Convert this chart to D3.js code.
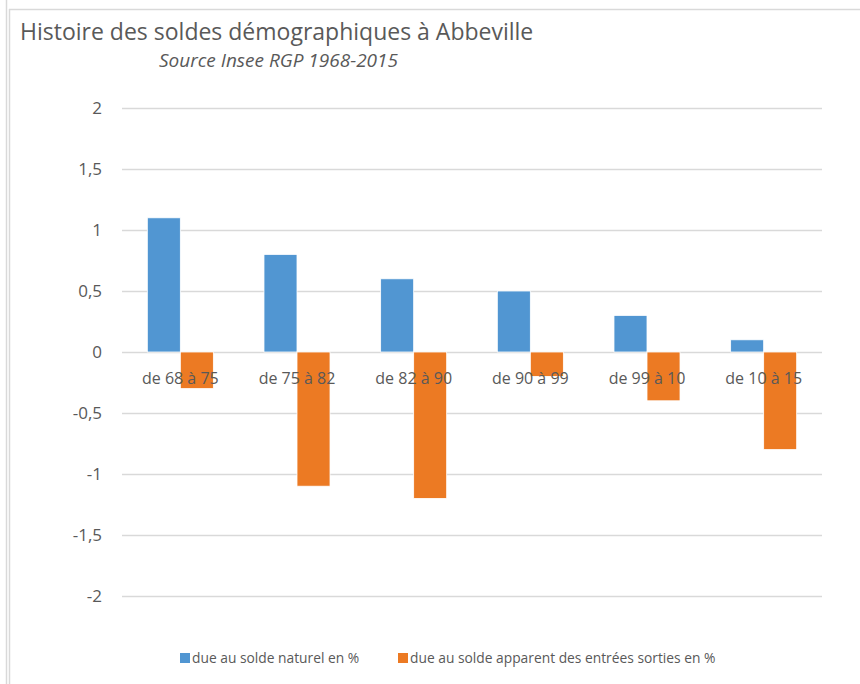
<!DOCTYPE html>
<html>
<head>
<meta charset="utf-8">
<script src="https://cdn.jsdelivr.net/npm/d3@7"></script>
<style>
  body { margin: 0; background: #fff; }
  svg text { font-family: "Open Sans", "Noto Sans", sans-serif; }
</style>
</head>
<body>
<div id="chart"></div>
<script>
  ////////////////////////////////// Data //////////////////////////////////
  var periods = ["de 68 à 75", "de 75 à 82", "de 82 à 90", "de 90 à 99", "de 99 à 10", "de 10 à 15"]
  var naturel = [1.1, 0.8, 0.6, 0.5, 0.3, 0.1]
  var migratoire = [-0.3, -1.1, -1.2, -0.2, -0.4, -0.8]
  var seriesNames = ["due au solde naturel en %", "due au solde apparent des entrées sorties en %"]
  var yTicks = [-2, -1.5, -1, -0.5, 0, 0.5, 1, 1.5, 2]

  var colors = ["#5196d2", "#ec7a23"]
  var W = 860, H = 684
  var margin = {top: 108, right: 38, bottom: 88, left: 122}

  var svg = d3.select("#chart").append("svg")
    .attr("width", W)
    .attr("height", H)

  // frame
  svg.append("line").attr("x1", 6.5).attr("x2", 6.5).attr("y1", 0).attr("y2", H)
    .attr("stroke", "#d9d9d9").attr("stroke-width", 1.5)
  svg.append("line").attr("x1", 9.5).attr("x2", 9.5).attr("y1", 9).attr("y2", H)
    .attr("stroke", "#d9d9d9").attr("stroke-width", 1.5)
  svg.append("line").attr("x1", 9).attr("x2", W).attr("y1", 9.5).attr("y2", 9.5)
    .attr("stroke", "#d9d9d9").attr("stroke-width", 1.5)

  ////////////////////////////// Scales /////////////////////////////////////
  var x = d3.scaleBand()
    .domain(periods)
    .range([margin.left, W - margin.right])
    .paddingInner(0.434)
    .paddingOuter(0.217)

  var xSub = d3.scaleBand()
    .domain([0, 1])
    .range([0, x.bandwidth()])

  var y = d3.scaleLinear()
    .domain([-2, 2])
    .range([H - margin.bottom, margin.top])

  ////////////////////////////// Grid & axis ////////////////////////////////
  var yAxis = d3.axisLeft(y)
    .tickValues(yTicks)
    .tickSize(-(W - margin.right - margin.left))
    .tickPadding(20)
    .tickFormat(function(d) { return String(d).replace(".", ",") })

  var gy = svg.append("g")
    .attr("transform", "translate(" + margin.left + ",0)")
    .call(yAxis)
  gy.select(".domain").remove()
  gy.selectAll(".tick line").attr("stroke", "#d9d9d9").attr("stroke-width", 1.3)
  gy.selectAll(".tick text")
    .attr("fill", "#595959")
    .style("font-size", "17px")

  ////////////////////////////// Bars ///////////////////////////////////////
  var data = periods.map(function(p, i) { return {period: p, values: [naturel[i], migratoire[i]]} })

  var groups = svg.selectAll(".grp").data(data).enter().append("g")
    .attr("class", "grp")
    .attr("transform", function(d) { return "translate(" + x(d.period) + ",0)" })

  groups.selectAll("rect").data(function(d) { return d.values.map(function(v, k) { return {k: k, v: v} }) })
    .enter().append("rect")
    .attr("x", function(d) { return xSub(d.k) })
    .attr("width", xSub.bandwidth())
    .attr("y", function(d) { return y(Math.max(0, d.v)) })
    .attr("height", function(d) { return Math.abs(y(d.v) - y(0)) })
    .attr("fill", function(d) { return colors[d.k] })
    .attr("stroke", "#fff")
    .attr("stroke-width", 0.8)

  // category labels sit just under zero line
  svg.selectAll(".cat").data(periods).enter().append("text")
    .attr("class", "cat")
    .attr("x", function(d) { return x(d) + x.bandwidth() / 2 })
    .attr("y", y(0) + 32)
    .attr("text-anchor", "middle")
    .attr("fill", "#595959")
    .style("font-size", "16px")
    .text(function(d) { return d })

  ////////////////////////////// Titles /////////////////////////////////////
  svg.append("text")
    .attr("x", 20).attr("y", 40)
    .attr("fill", "#595959")
    .style("font-size", "23px")
    .text("Histoire des soldes démographiques à Abbeville")

  svg.append("text")
    .attr("x", 159).attr("y", 67)
    .attr("fill", "#595959")
    .style("font-size", "19px")
    .style("font-style", "italic")
    .text("Source Insee RGP 1968-2015")

  ////////////////////////////// Legend /////////////////////////////////////
  var legendX = [180, 398]
  var legend = svg.selectAll(".leg").data(seriesNames).enter().append("g")
    .attr("class", "leg")
    .attr("transform", function(d, i) { return "translate(" + legendX[i] + ",657)" })
  legend.append("rect")
    .attr("x", 0).attr("y", -4).attr("width", 10).attr("height", 10)
    .attr("fill", function(d, i) { return colors[i] })
  legend.append("text")
    .attr("x", 12).attr("y", 6)
    .attr("fill", "#595959")
    .style("font-size", "13.8px")
    .text(function(d) { return d })
</script>
</body>
</html>
